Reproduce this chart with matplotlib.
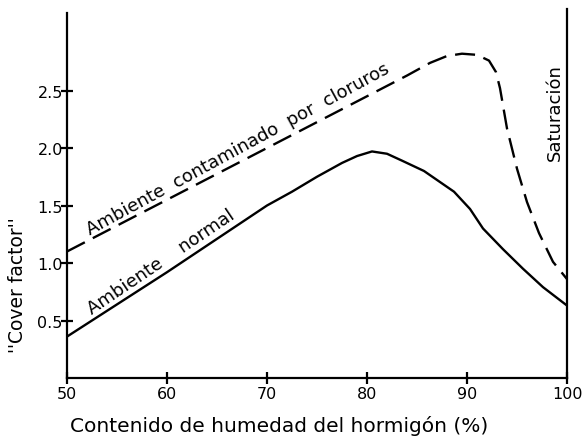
import matplotlib
matplotlib.use("Agg")
import matplotlib.pyplot as plt

# values
normal_x = [50, 55, 60, 65, 70, 72.5, 75, 77.5, 79, 80.5, 82, 83.5, 85.7, 88.7, 90.3, 91.6, 93.6, 95.6, 97.6, 100]
normal_y = [0.36, 0.64, 0.92, 1.21, 1.50, 1.62, 1.75, 1.87, 1.93, 1.97, 1.95, 1.89, 1.80, 1.62, 1.47, 1.30, 1.12, 0.95, 0.79, 0.63]

chlor_x = [50, 60, 70, 80, 84, 86.3, 88, 89.5, 91, 92.2, 92.9, 93.3, 94.0, 95.0, 96.0, 97.2, 98.6, 100]
chlor_y = [1.10, 1.55, 2.00, 2.45, 2.63, 2.74, 2.80, 2.82, 2.81, 2.76, 2.66, 2.52, 2.17, 1.82, 1.53, 1.26, 1.01, 0.86]

x_ticks = [50, 60, 70, 80, 90, 100]
y_ticks = [0.5, 1.0, 1.5, 2.0, 2.5]
y_labels = ["0.5", "1.0", "1.5", "2.0", "2.5"]

fig = plt.figure(figsize=(5.82, 4.39), dpi=100)
ax = fig.add_axes([67 / 582, 1 - 379 / 439, 500 / 582, 369 / 439])

ax.plot(normal_x, normal_y, color="black", lw=1.7, solid_capstyle="butt")
ax.plot(chlor_x, chlor_y, color="black", lw=1.7, dashes=(8.5, 3.8))

ax.set_xlim(50, 100)
ax.set_ylim(0, 369 / 115)

ax.spines["top"].set_visible(False)
for s in ("left", "bottom", "right"):
    ax.spines[s].set_linewidth(1.6)
ax.spines["left"].set_bounds(0, 3.17)

ax.set_xticks(x_ticks)
ax.set_yticks(y_ticks)
ax.set_yticklabels(y_labels)
ax.tick_params(direction="inout", length=8, width=1.6, labelsize=11.5, pad=2)
ax.tick_params(axis="y", pad=-1)

ax.text(52.3, 1.25, "Ambiente  contaminado  por  cloruros", rotation=28.5,
        rotation_mode="anchor", ha="left", va="baseline", fontsize=13)
ax.text(52.5, 0.56, "Ambiente    normal", rotation=34,
        rotation_mode="anchor", ha="left", va="baseline", fontsize=13)
ax.text(98.8, 2.32, "Saturación", rotation=90, ha="center", va="center", fontsize=13)

fig.text(279 / 582, 1 - 426 / 439, "Contenido de humedad del hormigón (%)",
         ha="center", va="center", fontsize=14.5)
fig.text(18 / 582, 1 - 285 / 439, "''Cover factor''", rotation=90,
         ha="center", va="center", fontsize=13.5)

fig.savefig("out.png", dpi=100)
